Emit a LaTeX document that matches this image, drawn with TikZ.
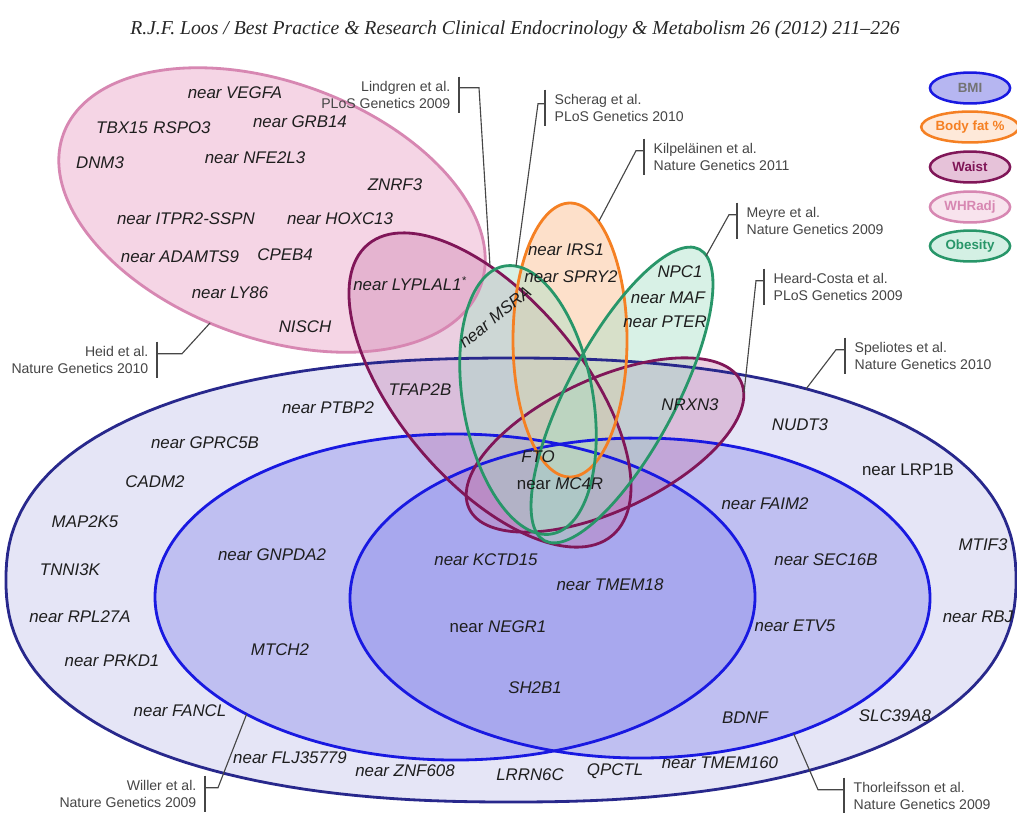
\documentclass[tikz,border=0pt]{standalone}
\usepackage{fontspec}
\setmainfont{Liberation Sans}
\newfontfamily\headserif{Liberation Serif}
\usetikzlibrary{shapes.geometric,positioning,calc}

\definecolor{bmiline}{RGB}{40,40,140}
\definecolor{bmifill}{RGB}{229,229,246}
\definecolor{coreline}{RGB}{25,25,225}
\definecolor{corefill}{RGB}{135,135,235}
\definecolor{whrline}{RGB}{215,135,178}
\definecolor{whrfill}{RGB}{240,192,216}
\definecolor{waistline}{RGB}{128,22,88}
\definecolor{waistfill}{RGB}{200,120,170}
\definecolor{fatline}{RGB}{245,128,35}
\definecolor{fatfill}{RGB}{252,200,160}
\definecolor{obline}{RGB}{40,150,105}
\definecolor{obfill}{RGB}{170,225,200}
\definecolor{citegray}{RGB}{70,70,70}
\definecolor{genetext}{RGB}{30,30,30}

\newcommand{\genesize}{\fontsize{12}{14}\selectfont}
\newcommand{\citesize}{\fontsize{10}{12}\selectfont}
\newcommand{\keysize}{\fontsize{9.5}{11}\selectfont\bfseries}
% outer BMI set, a slightly full oval
\newcommand{\bmiouter}{plot[domain=1:359, samples=180]
  ({511+505*sign(cos(\x))*abs(cos(\x))^0.87}, {580+222*sign(sin(\x))*abs(sin(\x))^0.87}) -- cycle}

\begin{document}
\begin{tikzpicture}[
  x=0.025cm, y=-0.025cm,
  gene/.style={font=\genesize\itshape, text=genetext, inner sep=1pt},
  generm/.style={font=\genesize, text=genetext, inner sep=1pt},
  cite/.style={font=\citesize, text=citegray, inner sep=1pt},
  citeline/.style={draw=citegray, line width=0.8pt},
  setline/.style={line width=2pt},
  key/.style={ellipse, line width=1.8pt, minimum width=57pt, minimum height=22pt,
    inner sep=0pt, font=\keysize}
]
\useasboundingbox (0,0) rectangle (1017,812);
\fill[white] (0,0) rectangle (1017,812);

% -- header --
\node[font=\headserif\itshape\fontsize{14}{16}\selectfont, text=black!85] (header) at (515,30)
  {R.J.F. Loos / Best Practice \& Research Clinical Endocrinology \& Metabolism 26 (2012) 211–226};

% -- fills --
\fill[bmifill] \bmiouter;
\fill[corefill, fill opacity=0.4] (455,597) ellipse [x radius=300, y radius=163];
\fill[corefill, fill opacity=0.4] (640,598) ellipse [x radius=290, y radius=160];
\fill[whrfill, fill opacity=0.65, shift={(272,210)}, rotate=-20] (0,0) ellipse [x radius=222, y radius=128];
\fill[waistfill, fill opacity=0.35, shift={(490,390)}, rotate=-50] (0,0) ellipse [x radius=190, y radius=92];
\fill[waistfill, fill opacity=0.35, shift={(605,445)}, rotate=25] (0,0) ellipse [x radius=150, y radius=66];
\fill[fatfill, fill opacity=0.55] (570,340) ellipse [x radius=57, y radius=137];
\fill[obfill, fill opacity=0.45, shift={(528,400)}, rotate=10] (0,0) ellipse [x radius=65, y radius=136];
\fill[obfill, fill opacity=0.45, shift={(622,395)}, rotate=-28] (0,0) ellipse [x radius=54, y radius=165];

% -- outlines --
\draw[setline, bmiline] \bmiouter;
\draw[setline, coreline] (455,597) ellipse [x radius=300, y radius=163];
\draw[setline, coreline] (640,598) ellipse [x radius=290, y radius=160];
\draw[setline, whrline, shift={(272,210)}, rotate=-20] (0,0) ellipse [x radius=222, y radius=128];
\draw[setline, waistline, shift={(490,390)}, rotate=-50] (0,0) ellipse [x radius=190, y radius=92];
\draw[setline, waistline, shift={(605,445)}, rotate=25] (0,0) ellipse [x radius=150, y radius=66];
\draw[setline, fatline] (570,340) ellipse [x radius=57, y radius=137];
\draw[setline, obline, shift={(528,400)}, rotate=10] (0,0) ellipse [x radius=65, y radius=136];
\draw[setline, obline, shift={(622,395)}, rotate=-28] (0,0) ellipse [x radius=54, y radius=165];

% -- WHRadj loci --
\node[gene] (vegfa)  at (235,93)  {near VEGFA};
\node[gene] (tbx15)  at (122,128) {TBX15};
\node[gene] (rspo3)  at (182,128) {RSPO3};
\node[gene] (grb14)  at (300,122) {near GRB14};
\node[gene] (dnm3)   at (100,163) {DNM3};
\node[gene] (nfe2l3) at (255,158) {near NFE2L3};
\node[gene] (znrf3)  at (395,185) {ZNRF3};
\node[gene] (itpr2)  at (186,219) {near ITPR2-SSPN};
\node[gene] (hoxc13) at (340,219) {near HOXC13};
\node[gene] (adamts9)at (180,257) {near ADAMTS9};
\node[gene] (cpeb4)  at (285,255) {CPEB4};
\node[gene] (ly86)   at (230,293) {near LY86};
\node[gene] (nisch)  at (305,327) {NISCH};

% -- waist / body fat / obesity loci --
\node[gene] (lyplal1) at (410,284) {near LYPLAL1\textsuperscript{*}};
\node[gene] (tfap2b)  at (420,390) {TFAP2B};
\node[gene, rotate=39] (msra) at (495,317) {near MSRA};
\node[gene] (irs1)    at (566,250) {near IRS1};
\node[gene] (spry2)   at (571,277) {near SPRY2};
\node[gene] (npc1)    at (680,272) {NPC1};
\node[gene] (maf)     at (668,298) {near MAF};
\node[gene] (pter)    at (665,322) {near PTER};
\node[gene] (nrxn3)   at (690,405) {NRXN3};
\node[gene] (fto)     at (538,457) {FTO};
\node[gene] (mc4r)    at (560,484) {\upshape near \itshape MC4R};

% -- BMI loci --
\node[gene] (ptbp2)   at (328,408) {near PTBP2};
\node[gene] (gprc5b)  at (205,443) {near GPRC5B};
\node[gene] (cadm2)   at (155,482) {CADM2};
\node[gene] (map2k5)  at (85,522)  {MAP2K5};
\node[gene] (tnni3k)  at (70,570)  {TNNI3K};
\node[gene] (rpl27a)  at (80,617)  {near RPL27A};
\node[gene] (prkd1)   at (112,661) {near PRKD1};
\node[gene] (fancl)   at (180,711) {near FANCL};
\node[gene] (flj)     at (290,758) {near FLJ35779};
\node[gene] (znf608)  at (405,771) {near ZNF608};
\node[gene] (lrrn6c)  at (530,775) {LRRN6C};
\node[gene] (qpctl)   at (615,771) {QPCTL};
\node[gene] (tmem160) at (720,763) {near TMEM160};
\node[gene] (slc39a8) at (895,716) {SLC39A8};
\node[gene] (rbj)     at (978,617) {near RBJ};
\node[gene] (mtif3)   at (983,545) {MTIF3};
\node[generm] (lrp1b) at (908,470) {near LRP1B};
\node[gene] (nudt3)   at (800,425) {NUDT3};
\node[gene] (gnpda2)  at (272,555) {near GNPDA2};
\node[gene] (mtch2)   at (280,650) {MTCH2};
\node[gene] (kctd15)  at (486,560) {near KCTD15};
\node[gene] (tmem18)  at (610,585) {near TMEM18};
\node[gene] (negr1)   at (498,627) {\upshape near \itshape NEGR1};
\node[gene] (sh2b1)   at (535,688) {SH2B1};
\node[gene] (faim2)   at (765,504) {near FAIM2};
\node[gene] (sec16b)  at (826,560) {near SEC16B};
\node[gene] (etv5)    at (795,626) {near ETV5};
\node[gene] (bdnf)    at (745,718) {BDNF};

% -- legend --
\node[key, draw=coreline, fill=bmifill!50!corefill, text=black!55] (keyBMI) at (970,88) {BMI};
\node[key, draw=fatline, fill=fatfill!40, text=fatline] (keyFat) at (970,127) {Body fat \%};
\node[key, draw=waistline, fill=waistfill!45, text=waistline] (keyWaist) at (970,167) {Waist};
\node[key, draw=whrline, fill=whrfill!45, text=whrline] (keyWHR) at (970,207) {WHRadj};
\node[key, draw=obline, fill=obfill!50, text=obline] (keyOb) at (970,246) {Obesity};

% -- citations --
\node[cite, anchor=east, align=right] (lindgren) at (452,95) {Lindgren et al.\\PLoS Genetics 2009};
\node[cite, anchor=west, align=left] (scherag) at (553,108) {Scherag et al.\\PLoS Genetics 2010};
\node[cite, anchor=west, align=left] (kilpe) at (652,157) {Kilpel\"ainen et al.\\Nature Genetics 2011};
\node[cite, anchor=west, align=left] (meyre) at (745,221) {Meyre et al.\\Nature Genetics 2009};
\node[cite, anchor=west, align=left] (heard) at (772,287) {Heard-Costa et al.\\PLoS Genetics 2009};
\node[cite, anchor=west, align=left] (speliotes) at (853,356) {Speliotes et al.\\Nature Genetics 2010};
\node[cite, anchor=east, align=right] (heid) at (150,360) {Heid et al.\\Nature Genetics 2010};
\node[cite, anchor=east, align=right] (willer) at (198,794) {Willer et al.\\Nature Genetics 2009};
\node[cite, anchor=west, align=left] (thorleif) at (852,796) {Thorleifsson et al.\\Nature Genetics 2009};

\coordinate (lindgrenEnd) at (490,266);
\coordinate (scheragEnd)  at (516,266);
\coordinate (kilpeEnd)    at (599,221);
\coordinate (meyreEnd)    at (706,256);
\coordinate (heardEnd)    at (744,393);
\coordinate (speliotesEnd) at (806,389);
\coordinate (heidEnd)     at (210,323);
\coordinate (willerEnd)   at ($(455,597)+(134:300 and 163)$);
\coordinate (thorleifEnd) at ($(640,598)+(58:290 and 160)$);

% brackets on the right of the text
\foreach \ref in {lindgren,heid,willer}{
  \draw[citeline] ($(\ref.north east)+(7,-3)$) -- ($(\ref.south east)+(7,3)$);
}
% brackets on the left of the text
\foreach \ref in {scherag,kilpe,meyre,heard,speliotes,thorleif}{
  \draw[citeline] ($(\ref.north west)+(-8,-3)$) -- ($(\ref.south west)+(-8,3)$);
}

% -- leaders --
\draw[citeline] ($(lindgren.north east)+(7,8)$) -- ($(lindgren.north east)+(27,8)$) -- (lindgrenEnd);
\draw[citeline] ($(heid.north east)+(7,9)$) -- ($(heid.north east)+(32,9)$) -- (heidEnd);
\draw[citeline] ($(willer.north east)+(7,9)$) -- ($(willer.north east)+(20,9)$) -- (willerEnd);
\draw[citeline] ($(scherag.north west)+(-8,11)$) -- ($(scherag.north west)+(-15,11)$) -- (scheragEnd);
\draw[citeline] ($(kilpe.north west)+(-8,9)$) -- ($(kilpe.north west)+(-16,9)$) -- (kilpeEnd);
\draw[citeline] ($(meyre.north west)+(-8,9)$) -- ($(meyre.north west)+(-16,9)$) -- (meyreEnd);
\draw[citeline] ($(heard.north west)+(-8,9)$) -- ($(heard.north west)+(-16,9)$) -- (heardEnd);
\draw[citeline] ($(speliotes.north west)+(-8,9)$) -- ($(speliotes.north west)+(-17,9)$) -- (speliotesEnd);
\draw[citeline] ($(thorleif.north west)+(-8,9)$) -- ($(thorleif.north west)+(-34,9)$) -- (thorleifEnd);

\end{tikzpicture}
\end{document}
